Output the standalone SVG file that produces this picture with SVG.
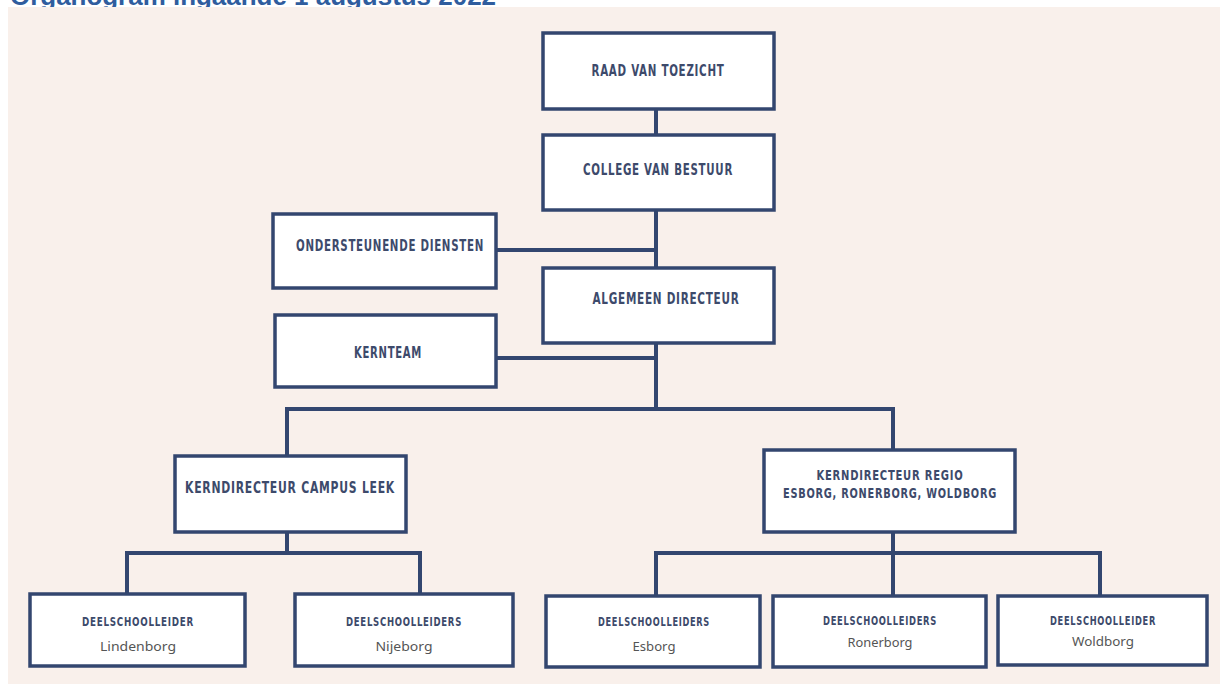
<svg xmlns="http://www.w3.org/2000/svg" width="1220" height="689" viewBox="0 0 1220 689">
  <style>
    .box { fill: #ffffff; stroke: #33466f; stroke-width: 3.5; }
    .conn { fill: none; stroke: #33466f; stroke-width: 4; stroke-linecap: square; }
    .lbl { font-family: "Liberation Sans Narrow", "DejaVu Sans Condensed", "Liberation Sans", sans-serif; font-weight: bold; font-stretch: condensed; fill: #3d4a6b; text-anchor: middle; letter-spacing: 1px; }
    .big { font-size: 16px; }
    .mid { font-size: 14.5px; }
    .small { font-size: 13px; }
    .city { font-family: "Noto Sans", "Liberation Sans", sans-serif; font-size: 12.5px; fill: #555555; text-anchor: middle; }
    .title { font-family: "Liberation Sans", Arial, sans-serif; font-weight: bold; font-size: 26px; fill: #2f5d9e; }
  </style>
  <rect width="1220" height="689" fill="#ffffff"/>
  <text class="title" x="10" y="5" textLength="486" lengthAdjust="spacingAndGlyphs">Organogram ingaande 1 augustus 2022</text>
  <rect x="8" y="7" width="1212" height="677" fill="#f9f0eb"/>

  <g id="connectors">
    <line class="conn" x1="656" y1="109" x2="656" y2="135"/>
    <line class="conn" x1="656" y1="210" x2="656" y2="268"/>
    <line class="conn" x1="496" y1="250" x2="656" y2="250"/>
    <line class="conn" x1="656" y1="343" x2="656" y2="409"/>
    <line class="conn" x1="496" y1="358" x2="656" y2="358"/>
    <polyline class="conn" points="287,456 287,409 893,409 893,450"/>
    <line class="conn" x1="287" y1="532" x2="287" y2="553"/>
    <polyline class="conn" points="127,594 127,553 420,553 420,594"/>
    <line class="conn" x1="893" y1="532" x2="893" y2="596"/>
    <polyline class="conn" points="656,596 656,553 1100,553 1100,596"/>
  </g>

  <g id="raad">
    <rect class="box" x="543" y="33" width="231" height="76"/>
    <text class="lbl big" x="658" y="76" textLength="133" lengthAdjust="spacingAndGlyphs">RAAD VAN TOEZICHT</text>
  </g>
  <g id="college">
    <rect class="box" x="543" y="135" width="231" height="75"/>
    <text class="lbl big" x="658" y="175" textLength="150" lengthAdjust="spacingAndGlyphs">COLLEGE VAN BESTUUR</text>
  </g>
  <g id="ondersteunende">
    <rect class="box" x="273" y="214" width="223" height="74"/>
    <text class="lbl big" x="390" y="251" textLength="188" lengthAdjust="spacingAndGlyphs">ONDERSTEUNENDE DIENSTEN</text>
  </g>
  <g id="algemeen">
    <rect class="box" x="543" y="268" width="231" height="75"/>
    <text class="lbl big" x="666" y="304" textLength="147" lengthAdjust="spacingAndGlyphs">ALGEMEEN DIRECTEUR</text>
  </g>
  <g id="kernteam">
    <rect class="box" x="275" y="315" width="221" height="72"/>
    <text class="lbl big" x="388" y="358" textLength="68" lengthAdjust="spacingAndGlyphs">KERNTEAM</text>
  </g>
  <g id="kd-leek">
    <rect class="box" x="175" y="456" width="231" height="76"/>
    <text class="lbl big" x="290" y="493" textLength="210" lengthAdjust="spacingAndGlyphs">KERNDIRECTEUR CAMPUS LEEK</text>
  </g>
  <g id="kd-regio">
    <rect class="box" x="764" y="450" width="251" height="82"/>
    <text class="lbl mid" x="890" y="480" textLength="147" lengthAdjust="spacingAndGlyphs">KERNDIRECTEUR REGIO</text>
    <text class="lbl mid" x="890" y="498" textLength="214" lengthAdjust="spacingAndGlyphs">ESBORG, RONERBORG, WOLDBORG</text>
  </g>
  <g id="lindenborg">
    <rect class="box" x="30" y="594" width="215" height="72"/>
    <text class="lbl small" x="138" y="626" textLength="112" lengthAdjust="spacingAndGlyphs">DEELSCHOOLLEIDER</text>
    <text class="city" x="138" y="651" textLength="76" lengthAdjust="spacingAndGlyphs">Lindenborg</text>
  </g>
  <g id="nijeborg">
    <rect class="box" x="295" y="594" width="218" height="72"/>
    <text class="lbl small" x="404" y="626" textLength="116" lengthAdjust="spacingAndGlyphs">DEELSCHOOLLEIDERS</text>
    <text class="city" x="404" y="651" textLength="57" lengthAdjust="spacingAndGlyphs">Nijeborg</text>
  </g>
  <g id="esborg">
    <rect class="box" x="546" y="596" width="214" height="71"/>
    <text class="lbl small" x="654" y="626" textLength="112" lengthAdjust="spacingAndGlyphs">DEELSCHOOLLEIDERS</text>
    <text class="city" x="654" y="651" textLength="43" lengthAdjust="spacingAndGlyphs">Esborg</text>
  </g>
  <g id="ronerborg">
    <rect class="box" x="773" y="596" width="213" height="71"/>
    <text class="lbl small" x="880" y="625" textLength="114" lengthAdjust="spacingAndGlyphs">DEELSCHOOLLEIDERS</text>
    <text class="city" x="880" y="647" textLength="65" lengthAdjust="spacingAndGlyphs">Ronerborg</text>
  </g>
  <g id="woldborg">
    <rect class="box" x="998" y="596" width="209" height="69"/>
    <text class="lbl small" x="1103" y="625" textLength="106" lengthAdjust="spacingAndGlyphs">DEELSCHOOLLEIDER</text>
    <text class="city" x="1103" y="646" textLength="62" lengthAdjust="spacingAndGlyphs">Woldborg</text>
  </g>
</svg>
